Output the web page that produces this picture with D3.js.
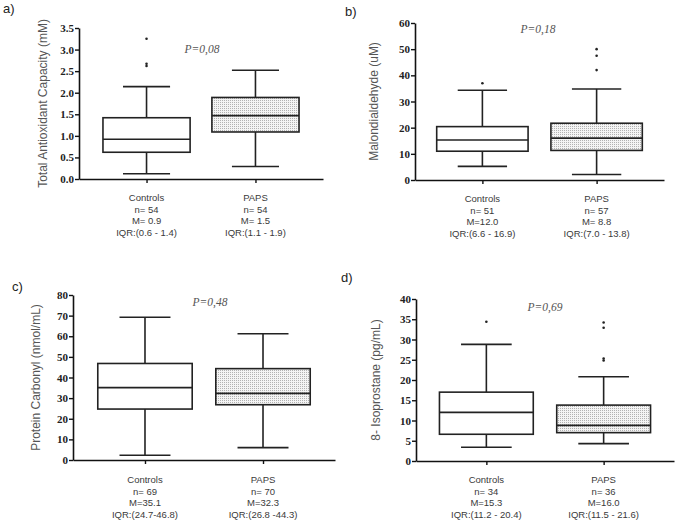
<!DOCTYPE html>
<html><head><meta charset="utf-8">
<script src="https://cdn.jsdelivr.net/npm/d3@7"></script>
<style>body{margin:0;background:#fff}svg{display:block}</style>
</head><body><svg id="c" width="676" height="525"></svg>
<script>
const groups = ["Controls","PAPS"];
// [low whisker, Q1, median, Q3, high whisker]
const tacBoxes = [[0.12,0.62,0.92,1.42,2.14],[0.29,1.09,1.47,1.89,2.52]];
const tacOutliers = [[2.62,2.67,3.25],[]];
const mdaBoxes = [[5.2,11.0,15.3,20.4,34.3],[2.1,11.3,16.0,21.7,34.8]];
const mdaOutliers = [[37],[42,47.5,50]];
const pcBoxes = [[2.3,24.7,35.1,46.8,69.2],[6.0,26.8,32.3,44.3,61.2]];
const pcOutliers = [[],[]];
const isoBoxes = [[3.4,6.6,12.0,17.0,28.8],[4.3,7.0,8.8,13.8,20.8]];
const isoOutliers = [[34.4],[24.8,25.3,32.9,34.2]];
const tacTicks = [0,0.5,1.0,1.5,2.0,2.5,3.0,3.5];
const mdaTicks = [0,10,20,30,40,50,60];
const pcTicks = [0,10,20,30,40,50,60,70,80];
const isoTicks = [0,5,10,15,20,25,30,35,40];
const tacStats = [["Controls","n= 54","M= 0.9","IQR:(0.6 - 1.4)"],["PAPS","n= 54","M= 1.5","IQR:(1.1 - 1.9)"]];
const mdaStats = [["Controls","n= 51","M=12.0","IQR:(6.6 - 16.9)"],["PAPS","n= 57","M= 8.8","IQR:(7.0 - 13.8)"]];
const pcStats = [["Controls","n= 69","M=35.1","IQR:(24.7-46.8)"],["PAPS","n= 70","M=32.3","IQR:(26.8 -44.3)"]];
const isoStats = [["Controls","n= 34","M=15.3","IQR:(11.2 - 20.4)"],["PAPS","n= 36","M=16.0","IQR:(11.5 - 21.6)"]];

const panels = [
  {letter:"a)", lx:3, ly:13, left:79, right:323, top:28, bottom:179, max:3.5, ticks:tacTicks, fmt:d3.format(".1f"),
   boxes:tacBoxes, outl:tacOutliers, stats:tacStats, title:"Total Antioxidant Capacity (mM)", tx:47,
   p:"P=0,08", px:202, py:53, pad:0.62, statY:201},
  {letter:"b)", lx:345, ly:16, left:415, right:664, top:23, bottom:180, max:60, ticks:mdaTicks, fmt:d3.format("d"),
   boxes:mdaBoxes, outl:mdaOutliers, stats:mdaStats, title:"Malondialdehyde (uM)", tx:378,
   p:"P=0,18", px:538, py:33, pad:0.59, statY:202},
  {letter:"c)", lx:12, ly:291, left:73, right:335, top:295, bottom:460, max:80, ticks:pcTicks, fmt:d3.format("d"),
   boxes:pcBoxes, outl:pcOutliers, stats:pcStats, title:"Protein Carbonyl (nmol/mL)", tx:40,
   p:"P=0,48", px:210, py:306, pad:0.61, statY:483},
  {letter:"d)", lx:341, ly:282, left:416, right:674, top:299, bottom:461, max:40, ticks:isoTicks, fmt:d3.format("d"),
   boxes:isoBoxes, outl:isoOutliers, stats:isoStats, title:"8- Isoprostane (pg/mL)", tx:380,
   p:"P=0,69", px:545, py:311, pad:0.60, statY:483}
];

const svg = d3.select("#c");
const defs = svg.append("defs");
const pat = defs.append("pattern").attr("id","dots").attr("width",2).attr("height",2).attr("patternUnits","userSpaceOnUse");
pat.append("rect").attr("width",2).attr("height",2).attr("fill","#f4f4f4");
pat.append("rect").attr("width",1).attr("height",1).attr("fill","#b2b2b2");

panels.forEach(P => {
  const g = svg.append("g");
  const y = d3.scaleLinear().domain([0,P.max]).range([P.bottom,P.top]);
  const x = d3.scalePoint().domain(groups).range([P.left,P.right]).padding(P.pad);
  const bw = x.step()*0.8;

  g.append("text").attr("x",P.lx).attr("y",P.ly).text(P.letter)
    .attr("font-family","Liberation Sans, Arial, sans-serif").attr("font-size",13).attr("fill","#222");

  const ya = g.append("g").attr("transform",`translate(${P.left},0)`)
    .call(d3.axisLeft(y).tickValues(P.ticks).tickFormat(P.fmt).tickSize(4).tickSizeOuter(0));
  ya.select(".domain").attr("stroke","#111").attr("stroke-width",1.6);
  ya.selectAll(".tick line").attr("stroke","#111").attr("stroke-width",1.4);
  ya.selectAll(".tick text").attr("font-family","Liberation Serif, Times New Roman, serif")
    .attr("font-weight","bold").attr("font-size",11).attr("fill","#222").attr("x",-5);

  const xa = g.append("g").attr("transform",`translate(0,${P.bottom})`)
    .call(d3.axisBottom(x).tickSize(4).tickSizeOuter(0).tickFormat(""));
  xa.select(".domain").attr("stroke","#111").attr("stroke-width",1.6);
  xa.selectAll(".tick line").attr("stroke","#111").attr("stroke-width",1.4);

  g.append("text").attr("transform",`translate(${P.tx},${(P.top+P.bottom)/2}) rotate(-90)`)
    .attr("text-anchor","middle").attr("font-family","Liberation Sans, Arial, sans-serif")
    .attr("font-size",12).attr("fill","#555").text(P.title);

  g.append("text").attr("x",P.px).attr("y",P.py).attr("text-anchor","middle")
    .attr("font-family","Liberation Serif, Times New Roman, serif").attr("font-style","italic")
    .attr("font-size",11.5).attr("fill","#555").text(P.p);

  groups.forEach((grp,i) => {
    const b = P.boxes[i];
    const cx = x(grp);
    const bg = g.append("g").attr("stroke","#222").attr("stroke-width",1.6);
    bg.append("line").attr("x1",cx).attr("x2",cx).attr("y1",y(b[0])).attr("y2",y(b[1]));
    bg.append("line").attr("x1",cx).attr("x2",cx).attr("y1",y(b[3])).attr("y2",y(b[4]));
    bg.append("line").attr("x1",cx-bw*0.27).attr("x2",cx+bw*0.27).attr("y1",y(b[0])).attr("y2",y(b[0]));
    bg.append("line").attr("x1",cx-bw*0.27).attr("x2",cx+bw*0.27).attr("y1",y(b[4])).attr("y2",y(b[4]));
    bg.append("rect").attr("x",cx-bw/2).attr("width",bw).attr("y",y(b[3])).attr("height",y(b[1])-y(b[3]))
      .attr("fill", i===0 ? "#fff" : "url(#dots)");
    bg.append("line").attr("x1",cx-bw/2).attr("x2",cx+bw/2).attr("y1",y(b[2])).attr("y2",y(b[2]));
    g.selectAll(null).data(P.outl[i]).enter().append("circle")
      .attr("cx",cx).attr("cy",d=>y(d)).attr("r",1.3).attr("fill","#222");
    const t = g.append("text").attr("text-anchor","middle").attr("font-family","Liberation Sans, Arial, sans-serif")
      .attr("font-size",9.5).attr("fill","#3a3a3a");
    P.stats[i].forEach((s,k) => t.append("tspan").attr("x",cx).attr("y",P.statY + k*11.7).text(s));
  });
});
</script></body></html>
